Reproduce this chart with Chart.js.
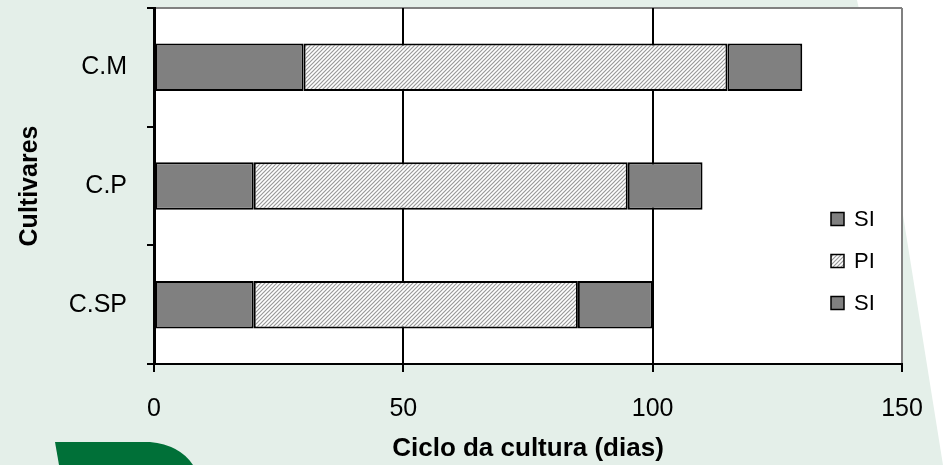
<!DOCTYPE html>
<html>
<head>
<meta charset="utf-8">
<script src="https://cdn.jsdelivr.net/npm/chart.js@4"></script>
<style>
    body { margin: 0; }
    .wrap { position: relative; width: 946px; height: 465px; background: #e4efe9; overflow: hidden; }
    .wrap svg, .wrap canvas { position: absolute; left: 0; top: 0; }
</style>
</head>
<body>
<div class="wrap">
    <svg width="946" height="465">
        <polygon points="857,0 946,0 946,465 943,465 903,215" fill="#ffffff" />
        <path d="M55,442 L150,442 Q180,445 193,465 L59,465 Z" fill="#007038" />
    </svg>
    <canvas id="myChart" width="946" height="465"></canvas>
</div>
<script>
// Dữ liệu (dias)
const cultivares = ['C.M', 'C.P', 'C.SP'];
const siInicio = [30, 20, 20];
const piDuracao = [85, 75, 65];
const siFim = [15, 15, 15];
const xTicks = [0, 50, 100, 150];

const FONT = '"Liberation Sans", Arial, sans-serif';

// hatch pattern for PI
function makeHatch() {
    const c = document.createElement('canvas');
    c.width = 4;
    c.height = 4;
    const g = c.getContext('2d');
    g.fillStyle = '#ffffff';
    g.fillRect(0, 0, 4, 4);
    g.strokeStyle = '#999999';
    g.lineWidth = 1.2;
    g.beginPath();
    g.moveTo(-1, 5); g.lineTo(5, -1);
    g.moveTo(-1, 1); g.lineTo(1, -1);
    g.moveTo(3, 5); g.lineTo(5, 3);
    g.stroke();
    return g.createPattern(c, 'repeat');
}
const hatch = makeHatch();

const plotBackground = {
    id: 'plotBackground',
    beforeDraw(chart) {
        const { ctx, chartArea: a } = chart;
        ctx.save();
        ctx.fillStyle = '#ffffff';
        ctx.fillRect(a.left, a.top, a.right - a.left, a.bottom - a.top);
        ctx.strokeStyle = '#808080';
        ctx.lineWidth = 2;
        ctx.beginPath();
        ctx.moveTo(a.left, a.top);
        ctx.lineTo(a.right, a.top);
        ctx.stroke();
        ctx.restore();
    }
};

// legend drawn inside plot area, reversed order like Excel
const insideLegend = {
    id: 'insideLegend',
    afterDraw(chart) {
        const { ctx, chartArea: a } = chart;
        const sets = chart.data.datasets.slice().reverse();
        const x = a.right - 71;
        let y = a.top + 211;
        ctx.save();
        ctx.font = '22px ' + FONT;
        ctx.textBaseline = 'middle';
        sets.forEach(ds => {
            ctx.fillStyle = ds.backgroundColor;
            ctx.fillRect(x, y - 6.5, 13, 13);
            ctx.strokeStyle = '#000';
            ctx.lineWidth = 1.5;
            ctx.strokeRect(x, y - 6.5, 13, 13);
            ctx.fillStyle = '#000';
            ctx.fillText(ds.label, x + 23, y + 1);
            y += 42;
        });
        ctx.restore();
    }
};

const barStyle = {
    borderColor: '#000000',
    borderWidth: 2,
    borderSkipped: false,
    barPercentage: 0.4,
    categoryPercentage: 1
};

const ctx = document.getElementById('myChart').getContext('2d');
const myChart = new Chart(ctx, {
    type: 'bar',
    data: {
        labels: cultivares,
        datasets: [
            { label: 'SI', data: siInicio, backgroundColor: '#808080', ...barStyle },
            { label: 'PI', data: piDuracao, backgroundColor: hatch, ...barStyle },
            { label: 'SI', data: siFim, backgroundColor: '#808080', ...barStyle }
        ]
    },
    options: {
        indexAxis: 'y',
        responsive: false,
        animation: false,
        layout: { padding: { top: 8, right: 44, left: 0, bottom: 0 } },
        plugins: {
            legend: { display: false },
            tooltip: { enabled: false }
        },
        scales: {
            x: {
                stacked: true,
                min: 0,
                max: 150,
                afterBuildTicks: scale => { scale.ticks = xTicks.map(v => ({ value: v })); },
                afterFit: scale => {
                    scale.height = 101;
                    scale.paddingLeft = 0;
                    scale.paddingRight = 0;
                },
                ticks: {
                    color: '#000',
                    font: { family: FONT, size: 25 },
                    padding: 22,
                    maxRotation: 0
                },
                grid: {
                    color: c => (c.tick && c.tick.value === 150 ? '#808080' : '#000'),
                    lineWidth: 2,
                    tickColor: '#000',
                    tickLength: 8
                },
                border: { display: true, color: '#000', width: 2 },
                title: {
                    display: true,
                    text: 'Ciclo da cultura (dias)',
                    color: '#000',
                    font: { family: FONT, size: 26, weight: 'bold' },
                    padding: { top: 0, bottom: 1 }
                }
            },
            y: {
                stacked: true,
                afterFit: scale => {
                    scale.width = 154;
                    scale.paddingTop = 0;
                    scale.paddingBottom = 0;
                },
                ticks: {
                    color: '#000',
                    font: { family: FONT, size: 25 },
                    padding: 20
                },
                grid: {
                    drawOnChartArea: false,
                    offset: true,
                    color: '#000',
                    lineWidth: 2,
                    tickLength: 7
                },
                border: { display: true, color: '#000', width: 3 },
                title: {
                    display: true,
                    text: 'Cultivares',
                    color: '#000',
                    font: { family: FONT, size: 25, weight: 'bold' },
                    padding: { top: 15, bottom: 0 }
                }
            }
        }
    },
    plugins: [plotBackground, insideLegend]
});
</script>
</body>
</html>
